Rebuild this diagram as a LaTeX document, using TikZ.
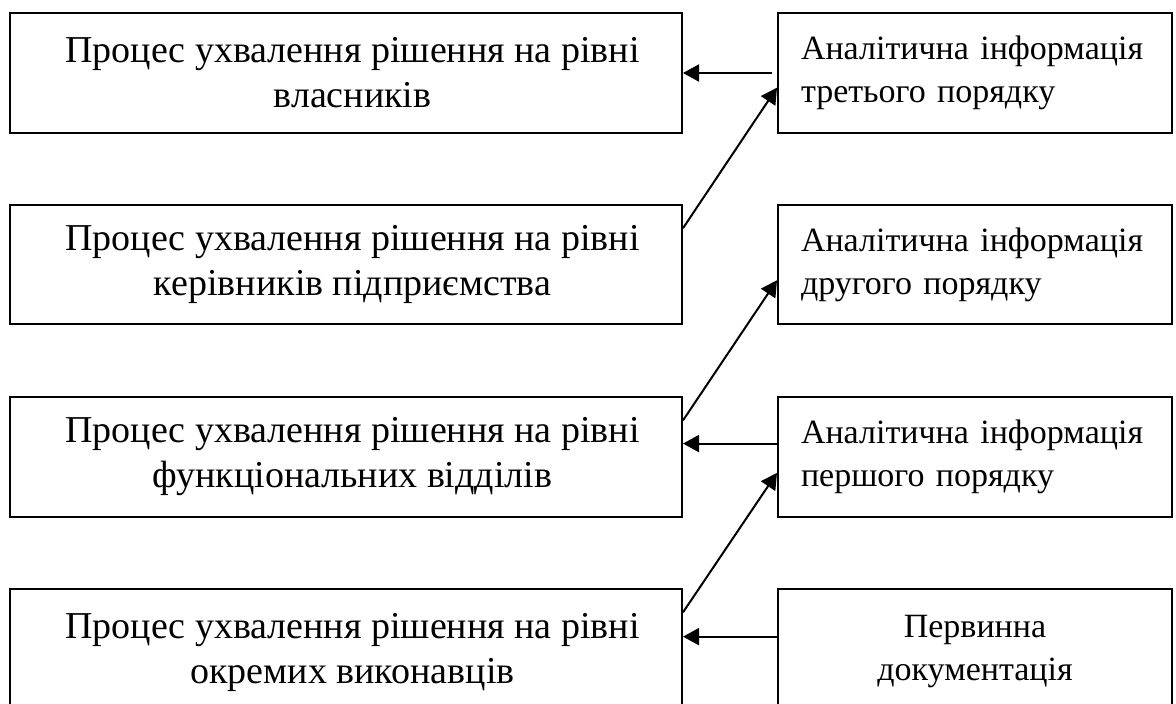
\documentclass[tikz,border=0pt]{standalone}
\usepackage{fontspec}
\setmainfont{Liberation Serif}
\usetikzlibrary{arrows.meta,calc}
% small left indent carried by every centred line of the level boxes
\newcommand{\lvlindent}{\hspace*{13pt}}
\begin{document}
\begin{tikzpicture}[x=1pt,y=-1pt,
  procbox/.style={draw, line width=2pt, minimum width=672pt, inner sep=0pt,
    align=center, font=\fontsize{38}{45}\selectfont, anchor=north west},
  infobox/.style={draw, line width=2pt, minimum width=394pt, inner xsep=23pt,
    inner ysep=0pt, text width=348pt, align=left,
    font=\fontsize{34}{43}\selectfont, anchor=north west},
  flow/.style={line width=2pt, -{Triangle[length=16pt,width=17pt]}}]
\useasboundingbox (0,0) rectangle (1176,704);

% decision levels
\node[procbox, minimum height=120pt] (L1) at (9,12)
  {\lvlindent Процес ухвалення рішення на рівні\\\lvlindent власників};
\node[procbox, minimum height=119pt] (L2) at (9,204)
  {\lvlindent Процес ухвалення рішення на рівні\\\lvlindent керівників підприємства};
\node[procbox, minimum height=120pt] (L3) at (9,396)
  {\lvlindent Процес ухвалення рішення на рівні\\\lvlindent функціональних відділів};
\node[procbox, minimum height=126pt] (L4) at (9,588)
  {\lvlindent Процес ухвалення рішення на рівні\\\lvlindent окремих виконавців};

% information sources
\node[infobox, minimum height=120pt] (R1) at (777,12)
  {Аналітична~інформація\\третього~порядку};
\node[infobox, minimum height=119pt] (R2) at (777,204)
  {Аналітична~інформація\\другого~порядку};
\node[infobox, minimum height=120pt] (R3) at (777,396)
  {Аналітична~інформація\\першого~порядку};
\node[infobox, minimum height=126pt, align=center] (R4) at (777,588)
  {Первинна\\документація};

% information flows
\draw[flow, shorten <=5pt] (R1.west) -- (L1.east);
\draw[flow] ($(L2.north east)!0.2!(L2.south east)$) -- ($(R1.north west)!0.62!(R1.south west)$);
\draw[flow] ($(L3.north east)!0.2!(L3.south east)$) -- ($(R2.north west)!0.63!(R2.south west)$);
\draw[flow] ($(R3.north west)!0.39!(R3.south west)$) -- ($(L3.north east)!0.39!(L3.south east)$);
\draw[flow] ($(L4.north east)!0.19!(L4.south east)$) -- ($(R3.north west)!0.63!(R3.south west)$);
\draw[flow] ($(R4.north west)!0.38!(R4.south west)$) -- ($(L4.north east)!0.38!(L4.south east)$);
\end{tikzpicture}
\end{document}
